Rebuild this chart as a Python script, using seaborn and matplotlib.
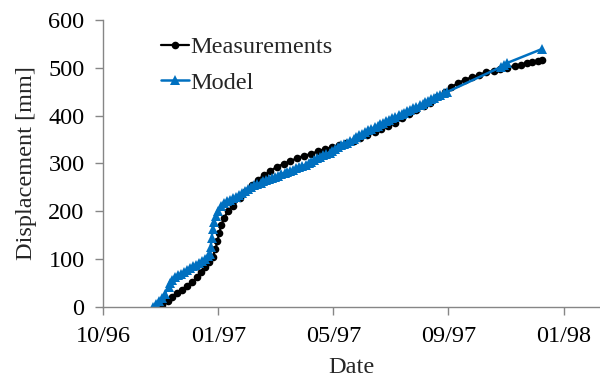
import matplotlib
matplotlib.use("Agg")
import matplotlib.pyplot as plt
import matplotlib.dates as mdates
import seaborn as sns
import pandas as pd
import numpy as np

# ---- data (days after 1996-10-01, displacement in mm) ----
base_date = "1996-10-01"

meas_days = [56, 61, 67, 72, 77, 82, 87, 93, 98, 102,
             106, 110, 114, 117, 119, 121, 123, 126, 130, 135,
             143, 149, 155, 161, 168, 174, 181, 188, 195, 202,
             209, 217, 224, 231, 239, 246, 253, 261, 268, 275,
             283, 290, 297, 304, 312, 319, 326, 334, 341, 348,
             356, 363, 370, 377, 385, 392, 399, 407, 414, 421,
             429, 436, 442, 447, 453, 457]
meas_vals = [0, 4, 13, 21, 29, 36, 44, 52, 63, 73,
             84, 94, 105, 121, 138, 155, 171, 186, 201, 211,
             228, 243, 255, 266, 276, 284, 293, 299, 305, 311,
             316, 320, 326, 330, 334, 339, 343, 347, 353, 360,
             366, 372, 378, 385, 395, 403, 412, 420, 426, 439,
             449, 460, 468, 475, 481, 485, 491, 493, 498, 500,
             504, 506, 510, 512, 514, 516]

model_days = [52, 55, 58, 61, 64, 68, 70, 72, 75, 78,
              81, 84, 87, 90, 94, 97, 100, 103, 106, 109,
              111, 112, 113, 114, 115, 118, 120, 123, 126, 129,
              132, 135, 138, 142, 145, 148, 151, 154, 157, 160,
              164, 167, 170, 173, 176, 179, 182, 185, 189, 192,
              195, 198, 201, 204, 207, 211, 214, 217, 220, 223,
              226, 229, 232, 236, 239, 242, 245, 248, 251, 254,
              257, 261, 264, 267, 270, 273, 276, 279, 283, 286,
              289, 292, 295, 298, 301, 304, 308, 311, 314, 317,
              320, 323, 326, 330, 333, 336, 339, 342, 345, 348,
              351, 355, 358, 415, 418, 421, 457]
model_vals = [0, 6, 13, 19, 27, 42, 50, 56, 63, 67,
              69, 73, 77, 82, 86, 88, 92, 96, 100, 107,
              111, 125, 144, 163, 178, 190, 201, 211, 217, 222,
              224, 228, 230, 234, 238, 243, 247, 251, 255, 257,
              259, 263, 266, 268, 270, 272, 274, 278, 280, 282,
              284, 286, 291, 293, 295, 297, 301, 303, 307, 312,
              314, 318, 320, 322, 326, 330, 334, 339, 341, 343,
              347, 351, 355, 360, 362, 366, 370, 372, 376, 378,
              383, 385, 389, 391, 395, 397, 401, 403, 406, 410,
              412, 416, 418, 422, 424, 429, 431, 435, 437, 441,
              443, 447, 449, 502, 506, 510, 539]

tick_dates = ["1996-10-01", "1997-01-29", "1997-05-29", "1997-09-26", "1998-01-24"]
y_ticks = [0, 100, 200, 300, 400, 500, 600]
x_end_date = "1998-03-03"

series_names = ["Measurements", "Model"]
# -----------------------------------------------------------

b = pd.Timestamp(base_date)
meas = pd.DataFrame({"Date": b + pd.to_timedelta(meas_days, unit="D"),
                     "Displacement": meas_vals})
model = pd.DataFrame({"Date": b + pd.to_timedelta(model_days, unit="D"),
                      "Displacement": model_vals})

FS = 17.5
sns.set_theme(style="white")
plt.rcParams["font.family"] = ["Liberation Serif", "DejaVu Serif"]
plt.rcParams["font.size"] = FS

fig = plt.figure(figsize=(6.0, 3.81), dpi=100)
ax = fig.add_axes([103.3 / 600, 74 / 381, (600 - 103.3) / 600, 287 / 381])

sns.lineplot(data=meas, x="Date", y="Displacement", ax=ax, color="black",
             marker="o", markersize=5.5, markeredgewidth=0, linewidth=1.6,
             label=series_names[0], sort=False)
sns.lineplot(data=model, x="Date", y="Displacement", ax=ax, color="#0070C0",
             marker="^", markersize=6.5, markeredgewidth=0, linewidth=1.8,
             label=series_names[1], sort=False)

ax.set_xlim(pd.Timestamp(tick_dates[0]), pd.Timestamp(x_end_date))
ax.set_ylim(0, 600)
ax.set_xticks([pd.Timestamp(d) for d in tick_dates])
ax.xaxis.set_major_formatter(mdates.DateFormatter("%m/%y"))
ax.set_yticks(y_ticks)

for s in ["top", "right"]:
    ax.spines[s].set_visible(False)
for s in ["left", "bottom"]:
    ax.spines[s].set_color("#868686")
    ax.spines[s].set_linewidth(1.0)

ax.tick_params(axis="both", which="major", direction="out", length=5.5,
               width=1.0, color="#868686", labelsize=FS, labelcolor="black",
               bottom=True, left=True)
ax.tick_params(axis="x", pad=8.5)
ax.tick_params(axis="y", pad=8)

ax.set_xlabel("Date", fontsize=FS, labelpad=7)
ax.set_ylabel("Displacement [mm]", fontsize=FS, labelpad=8)

ax.legend(loc="upper left", bbox_to_anchor=(0.1156, 0.943), frameon=False,
          fontsize=FS, handlelength=1.15, handletextpad=0.08,
          labelspacing=0.55, borderpad=0, borderaxespad=0)

ax.grid(False)
fig.savefig("out.png", dpi=100, facecolor="white")
